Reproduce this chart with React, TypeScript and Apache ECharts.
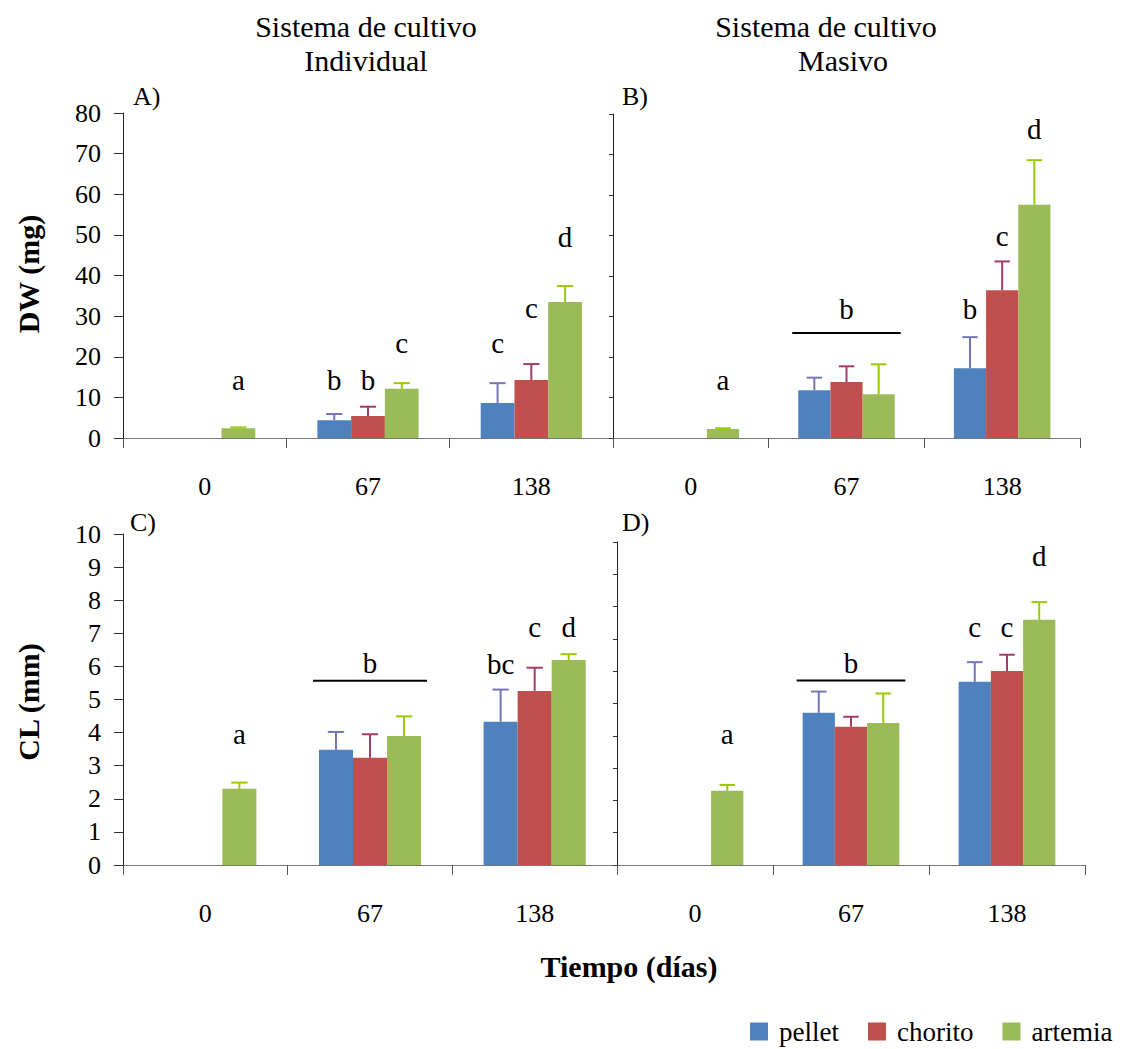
import React, { useEffect, useRef } from 'react';
import * as echarts from 'echarts';

// ---------- data ----------
const categories = ['0', '67', '138'];
const seriesNames = ['pellet', 'chorito', 'artemia'];

// A) DW (mg) – individual culture
const dwIndPellet = [null, 4.4, 8.6];
const dwIndChorito = [null, 5.4, 14.3];
const dwIndArtemia = [2.4, 12.1, 33.5];
const dwIndPelletSD = [null, 1.5, 4.9];
const dwIndChoritoSD = [null, 2.3, 3.9];
const dwIndArtemiaSD = [0.2, 1.4, 3.9];

// B) DW (mg) – mass culture
const dwMasPellet = [null, 11.8, 17.2];
const dwMasChorito = [null, 13.8, 36.5];
const dwMasArtemia = [2.2, 10.8, 57.6];
const dwMasPelletSD = [null, 3.1, 7.7];
const dwMasChoritoSD = [null, 3.9, 7.1];
const dwMasArtemiaSD = [0.2, 7.4, 11.0];

// C) CL (mm) – individual culture
const clIndPellet = [null, 3.48, 4.33];
const clIndChorito = [null, 3.24, 5.26];
const clIndArtemia = [2.3, 3.9, 6.19];
const clIndPelletSD = [null, 0.54, 0.97];
const clIndChoritoSD = [null, 0.71, 0.7];
const clIndArtemiaSD = [0.19, 0.59, 0.18];

// D) CL (mm) – mass culture
const clMasPellet = [null, 4.71, 5.67];
const clMasChorito = [null, 4.28, 6.01];
const clMasArtemia = [2.3, 4.4, 7.59];
const clMasPelletSD = [null, 0.66, 0.61];
const clMasChoritoSD = [null, 0.31, 0.5];
const clMasArtemiaSD = [0.18, 0.91, 0.55];

// significance letters: text, category index, bar position (0..2), y value
const lettersA = ['a', 'b', 'b', 'c', 'c', 'c', 'd'];
const lettersACat = [0, 1, 1, 1, 2, 2, 2];
const lettersAPos = [2, 0, 1, 2, 0, 1, 2];
const lettersAY = [14.4, 14.3, 14.3, 23.3, 23.3, 32.1, 49.5];

const lettersB = ['a', 'b', 'b', 'c', 'd'];
const lettersBCat = [0, 1, 2, 2, 2];
const lettersBPos = [2, 1, 0, 1, 2];
const lettersBY = [14.4, 31.9, 31.8, 49.9, 76.2];
const bracketBY = 25.9;

const lettersC = ['a', 'b', 'bc', 'c', 'd'];
const lettersCCat = [0, 1, 2, 2, 2];
const lettersCPos = [2, 1, 0, 1, 2];
const lettersCY = [3.95, 6.1, 6.08, 7.2, 7.18];
const bracketCY = 5.57;

const lettersD = ['a', 'b', 'c', 'c', 'd'];
const lettersDCat = [0, 1, 2, 2, 2];
const lettersDPos = [2, 1, 0, 1, 2];
const lettersDY = [4.05, 6.25, 7.38, 7.38, 9.56];
const bracketDY = 5.71;

// ---------- styles ----------
const barColors = ['#4F81BD', '#C0504D', '#9BBB59'];
const errColors = ['#7575B5', '#A33B6B', '#99CC00'];
const FONT = 'Liberation Serif';
const GAP = 0.38;

const panels = [
  {
    grid: { left: 123, top: 113, width: 490, height: 325 },
    max: 80, interval: 10, labels: true,
    bars: [dwIndPellet, dwIndChorito, dwIndArtemia],
    sds: [dwIndPelletSD, dwIndChoritoSD, dwIndArtemiaSD],
    letters: lettersA, lCat: lettersACat, lPos: lettersAPos, lY: lettersAY,
    bracket: null as number | null,
  },
  {
    grid: { left: 613, top: 114, width: 467, height: 324 },
    max: 80, interval: 10, labels: false,
    bars: [dwMasPellet, dwMasChorito, dwMasArtemia],
    sds: [dwMasPelletSD, dwMasChoritoSD, dwMasArtemiaSD],
    letters: lettersB, lCat: lettersBCat, lPos: lettersBPos, lY: lettersBY,
    bracket: bracketBY,
  },
  {
    grid: { left: 123, top: 534, width: 494, height: 331 },
    max: 10, interval: 1, labels: true,
    bars: [clIndPellet, clIndChorito, clIndArtemia],
    sds: [clIndPelletSD, clIndChoritoSD, clIndArtemiaSD],
    letters: lettersC, lCat: lettersCCat, lPos: lettersCPos, lY: lettersCY,
    bracket: bracketCY,
  },
  {
    grid: { left: 617, top: 542, width: 468, height: 323 },
    max: 10, interval: 1, labels: false,
    bars: [clMasPellet, clMasChorito, clMasArtemia],
    sds: [clMasPelletSD, clMasChoritoSD, clMasArtemiaSD],
    letters: lettersD, lCat: lettersDCat, lPos: lettersDPos, lY: lettersDY,
    bracket: bracketDY,
  },
];

function buildOption() {
  const grids: any[] = [];
  const xAxes: any[] = [];
  const yAxes: any[] = [];
  const series: any[] = [];

  panels.forEach((p, i) => {
    grids.push({ ...p.grid });
    xAxes.push({
      gridIndex: i,
      type: 'category',
      data: categories,
      boundaryGap: true,
      axisLine: { show: true, lineStyle: { color: '#777', width: 1 } },
      axisTick: { show: true, length: 10, lineStyle: { color: '#555' } },
      axisLabel: { margin: 35, fontSize: 26, fontFamily: FONT, color: '#000' },
      splitLine: { show: false },
    });
    yAxes.push({
      gridIndex: i,
      type: 'value',
      min: 0,
      max: p.max,
      interval: p.interval,
      axisLine: { show: true, lineStyle: { color: '#222', width: 1 } },
      axisTick: { show: true, length: p.labels ? 9 : 4, lineStyle: { color: '#333' } },
      axisLabel: { show: p.labels, margin: 22, fontSize: 26, fontFamily: FONT, color: '#000' },
      splitLine: { show: false },
    });

    // bars
    p.bars.forEach((vals, s) => {
      series.push({
        type: 'bar',
        name: seriesNames[s],
        xAxisIndex: i,
        yAxisIndex: i,
        data: vals,
        barGap: '0%',
        barCategoryGap: GAP * 100 + '%',
        itemStyle: { color: barColors[s] },
        z: 2,
      });
    });

    // error bars
    const errData: number[][] = [];
    p.bars.forEach((vals, s) => {
      vals.forEach((v, c) => {
        const sd = p.sds[s][c];
        if (v != null && sd != null) errData.push([c, s, v, sd]);
      });
    });
    series.push({
      type: 'custom',
      xAxisIndex: i,
      yAxisIndex: i,
      encode: { x: 0, y: 2 },
      z: 5,
      silent: true,
      data: errData,
      renderItem: (params: any, api: any) => {
        const c = api.value(0);
        const s = api.value(1);
        const m = api.value(2);
        const sd = api.value(3);
        const p0 = api.coord([c, m]);
        const p1 = api.coord([c, m + sd]);
        const band = api.size([1, 0])[0];
        const bw = (band * (1 - GAP)) / 3;
        const x = p0[0] + (s - 1) * bw;
        const half = bw * 0.24;
        const stroke = errColors[s];
        return {
          type: 'group',
          children: [
            { type: 'line', shape: { x1: x, y1: p0[1], x2: x, y2: p1[1] }, style: { stroke, lineWidth: 2 } },
            { type: 'line', shape: { x1: x - half, y1: p1[1], x2: x + half, y2: p1[1] }, style: { stroke, lineWidth: 2 } },
          ],
        };
      },
    });

    // letters
    const letterData = p.letters.map((_, k) => [p.lCat[k], p.lPos[k], p.lY[k]]);
    series.push({
      type: 'custom',
      xAxisIndex: i,
      yAxisIndex: i,
      encode: { x: 0, y: 2 },
      z: 6,
      silent: true,
      data: letterData,
      renderItem: (params: any, api: any) => {
        const c = api.value(0);
        const pos = api.value(1);
        const y = api.value(2);
        const pt = api.coord([c, y]);
        const band = api.size([1, 0])[0];
        const bw = (band * (1 - GAP)) / 3;
        return {
          type: 'text',
          x: pt[0] + (pos - 1) * bw,
          y: pt[1],
          style: {
            text: p.letters[params.dataIndex],
            fill: '#000',
            fontSize: 29,
            fontFamily: FONT,
            align: 'center',
            verticalAlign: 'middle',
          },
        };
      },
    });

    // bracket
    if (p.bracket != null) {
      series.push({
        type: 'custom',
        xAxisIndex: i,
        yAxisIndex: i,
        encode: { x: 0, y: 1 },
        z: 6,
        silent: true,
        data: [[1, p.bracket]],
        renderItem: (params: any, api: any) => {
          const pt = api.coord([api.value(0), api.value(1)]);
          const band = api.size([1, 0])[0];
          const bw = (band * (1 - GAP)) / 3;
          const halfLen = 1.5 * bw + 6;
          return {
            type: 'line',
            shape: { x1: pt[0] - halfLen, y1: pt[1], x2: pt[0] + halfLen, y2: pt[1] },
            style: { stroke: '#000', lineWidth: 2 },
          };
        },
      });
    }
  });

  const txt = (text: string, x: number, y: number, fontSize: number, extra: any = {}) => ({
    type: 'text',
    x,
    y,
    rotation: extra.rotation || 0,
    style: {
      text,
      fill: '#000',
      fontSize,
      fontFamily: FONT,
      fontWeight: extra.bold ? 'bold' : 'normal',
      align: extra.align || 'center',
      verticalAlign: 'middle',
    },
  });

  const graphic = [
    txt('Sistema de cultivo', 366, 26, 30),
    txt('Individual', 366, 60, 30),
    txt('Sistema de cultivo', 826, 26, 30),
    txt('Masivo', 843, 60, 30),
    txt('A)', 133, 96, 26, { align: 'left' }),
    txt('B)', 622, 96, 26, { align: 'left' }),
    txt('C)', 130, 522, 26, { align: 'left' }),
    txt('D)', 622, 522, 26, { align: 'left' }),
    txt('DW (mg)', 28, 274, 30, { bold: true, rotation: Math.PI / 2 }),
    txt('CL (mm)', 28, 702, 30, { bold: true, rotation: Math.PI / 2 }),
    txt('Tiempo (días)', 629, 966, 30, { bold: true }),
  ];

  return {
    animation: false,
    backgroundColor: '#fff',
    textStyle: { fontFamily: FONT },
    legend: {
      data: seriesNames,
      left: 750,
      top: 1018,
      width: 380,
      padding: 0,
      icon: 'rect',
      itemWidth: 18,
      itemHeight: 18,
      itemGap: 29,
      textStyle: { fontSize: 27, fontFamily: FONT, color: '#000', padding: [0, 0, 0, 6] },
    },
    grid: grids,
    xAxis: xAxes,
    yAxis: yAxes,
    series,
    graphic,
  };
}

export default function App() {
  const ref = useRef<HTMLDivElement>(null);
  useEffect(() => {
    if (!ref.current) return;
    const chart = echarts.init(ref.current, undefined, { renderer: 'svg' });
    chart.setOption(buildOption() as any);
    return () => chart.dispose();
  }, []);
  return (
    <div
      ref={ref}
      style={{ position: 'absolute', left: 0, top: 0, width: 1123, height: 1049, background: '#fff' }}
    />
  );
}
